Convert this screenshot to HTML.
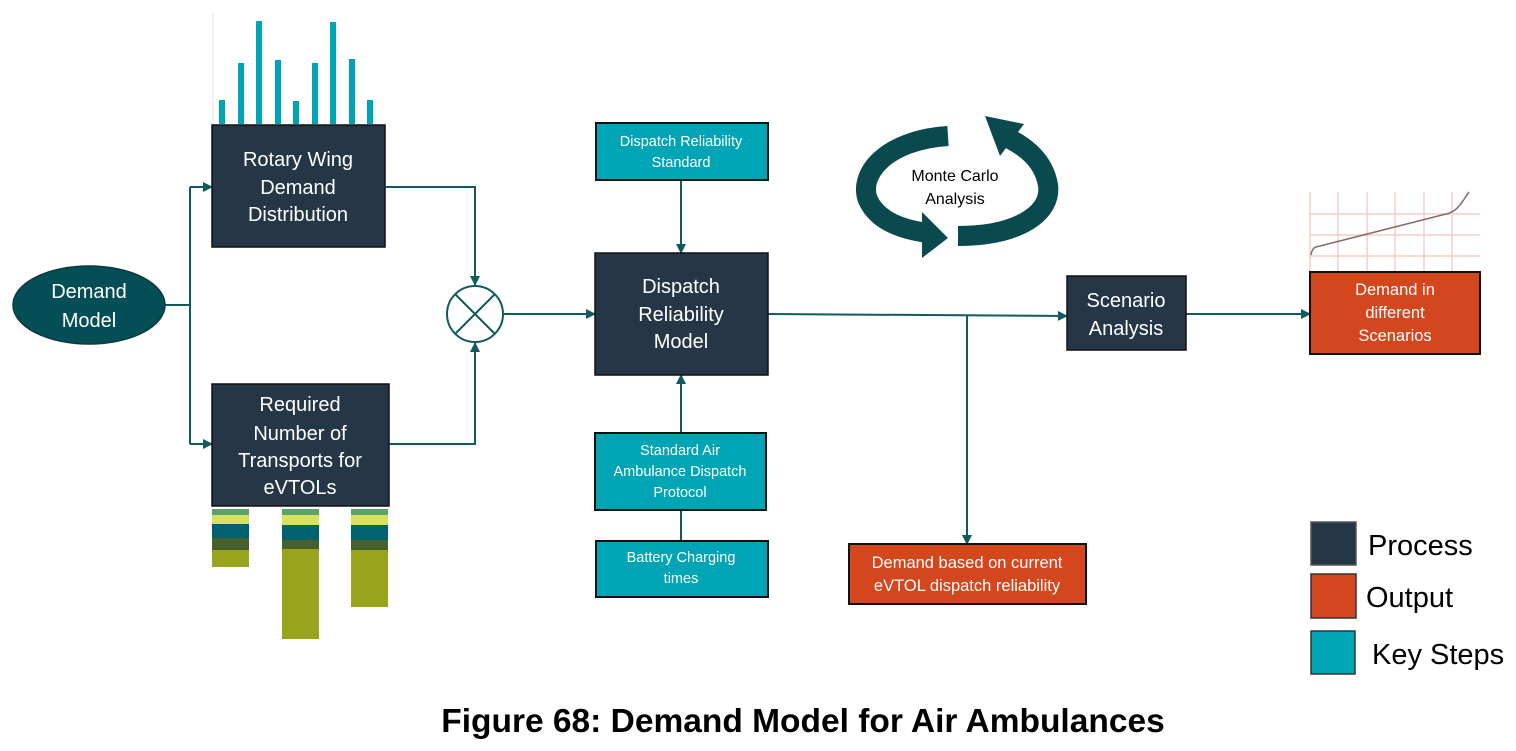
<!DOCTYPE html>
<html><head><meta charset="utf-8"><style>
body{margin:0;background:#fff}
</style></head><body>
<svg width="1516" height="746" viewBox="0 0 1516 746" xmlns="http://www.w3.org/2000/svg" font-family="Liberation Sans, sans-serif">
<defs><marker id="a" markerWidth="10" markerHeight="10" refX="9" refY="5" orient="auto" markerUnits="userSpaceOnUse"><path d="M0,0 L10,5 L0,10 z" fill="#115a5e"/></marker></defs>
<line x1="213" y1="12" x2="213" y2="124" stroke="#e6e6e6"/>
<g fill="#00a5b5">
<rect x="219" y="100" width="6" height="24"/><rect x="238" y="63" width="6" height="61"/><rect x="256" y="21" width="6" height="103"/><rect x="275" y="60" width="6" height="64"/><rect x="293" y="101" width="6" height="23"/><rect x="312" y="63" width="6" height="61"/><rect x="330" y="22" width="6" height="102"/><rect x="349" y="59" width="6" height="65"/><rect x="367" y="100" width="6" height="24"/>
</g>
<g>
<rect x="212" y="509" width="37" height="6" fill="#5aa36a"/><rect x="212" y="515" width="37" height="9" fill="#d9e25e"/><rect x="212" y="524" width="37" height="14" fill="#00626e"/><rect x="212" y="538" width="37" height="12" fill="#46602f"/><rect x="212" y="550" width="37" height="17" fill="#98a41e"/>
<rect x="282" y="509" width="37" height="6" fill="#5aa36a"/><rect x="282" y="515" width="37" height="10" fill="#d9e25e"/><rect x="282" y="525" width="37" height="15" fill="#00626e"/><rect x="282" y="540" width="37" height="9" fill="#46602f"/><rect x="282" y="549" width="37" height="90" fill="#98a41e"/>
<rect x="351" y="509" width="37" height="6" fill="#5aa36a"/><rect x="351" y="515" width="37" height="10" fill="#d9e25e"/><rect x="351" y="525" width="37" height="15" fill="#00626e"/><rect x="351" y="540" width="37" height="10" fill="#46602f"/><rect x="351" y="550" width="37" height="57" fill="#98a41e"/>
</g>
<g stroke="#f2cfc8" stroke-width="1.5">
<line x1="1310" y1="192" x2="1310" y2="272"/><line x1="1338" y1="192" x2="1338" y2="272"/><line x1="1367" y1="192" x2="1367" y2="272"/><line x1="1395" y1="192" x2="1395" y2="272"/><line x1="1424" y1="192" x2="1424" y2="272"/><line x1="1452" y1="192" x2="1452" y2="272"/>
<line x1="1310" y1="214" x2="1480" y2="214"/><line x1="1310" y1="235" x2="1480" y2="235"/><line x1="1310" y1="256" x2="1480" y2="256"/>
</g>
<path d="M1311,255 C1312,250 1313,248 1316,247 L1446,214 C1458,212 1463,200 1469,192" fill="none" stroke="#8a6a66" stroke-width="1.5"/>
<g stroke="#115a5e" stroke-width="2" fill="none">
<line x1="165" y1="305" x2="190" y2="305"/>
<line x1="190" y1="187" x2="190" y2="444"/>
<line x1="190" y1="187" x2="212" y2="187" marker-end="url(#a)"/>
<line x1="190" y1="444" x2="212" y2="444" marker-end="url(#a)"/>
<polyline points="385,187 475,187 475,285" marker-end="url(#a)"/>
<polyline points="389,444 475,444 475,343" marker-end="url(#a)"/>
<line x1="504" y1="314" x2="595" y2="314" marker-end="url(#a)"/>
<line x1="681" y1="180" x2="681" y2="253" marker-end="url(#a)"/>
<line x1="681" y1="433" x2="681" y2="375" marker-end="url(#a)"/>
<line x1="681" y1="541" x2="681" y2="510"/>
<line x1="768" y1="314" x2="1067" y2="316" marker-end="url(#a)"/>
<line x1="967" y1="316" x2="967" y2="544" marker-end="url(#a)"/>
<line x1="1186" y1="314" x2="1310" y2="314" marker-end="url(#a)"/>
</g>
<ellipse cx="89" cy="305" rx="76" ry="39" fill="#044e55" stroke="#0b3a3f" stroke-width="1.5"/>
<text x="89" y="298" fill="#fff" font-size="20" text-anchor="middle">Demand</text>
<text x="89" y="327" fill="#fff" font-size="20" text-anchor="middle">Model</text>
<circle cx="475" cy="314" r="28" fill="#fff" stroke="#115a5e" stroke-width="2"/>
<line x1="455" y1="294" x2="495" y2="334" stroke="#115a5e" stroke-width="2"/><line x1="495" y1="294" x2="455" y2="334" stroke="#115a5e" stroke-width="2"/>
<g stroke="#111" stroke-width="1.5" fill="#253746">
<rect x="212" y="125" width="173" height="122"/>
<rect x="212" y="384" width="177" height="122"/>
<rect x="595" y="253" width="173" height="122"/>
<rect x="1067" y="276" width="119" height="74"/>
</g>
<g fill="#fff" font-size="20" text-anchor="middle">
<text x="298" y="166">Rotary Wing</text><text x="298" y="194">Demand</text><text x="298" y="221">Distribution</text>
<text x="300" y="411">Required</text><text x="300" y="440">Number of</text><text x="300" y="467">Transports for</text><text x="300" y="494">eVTOLs</text>
<text x="681" y="293">Dispatch</text><text x="681" y="321">Reliability</text><text x="681" y="348">Model</text>
<text x="1126" y="307">Scenario</text><text x="1126" y="335">Analysis</text>
</g>
<g stroke="#111" stroke-width="2" fill="#00a5b5">
<rect x="596" y="123" width="172" height="57"/>
<rect x="595" y="433" width="171" height="77"/>
<rect x="596" y="541" width="172" height="56"/>
</g>
<g fill="#fff" font-size="14.5" text-anchor="middle">
<text x="681" y="146">Dispatch Reliability</text><text x="681" y="167">Standard</text>
<text x="680" y="455">Standard Air</text><text x="680" y="476">Ambulance Dispatch</text><text x="680" y="497">Protocol</text>
<text x="681" y="562">Battery Charging</text><text x="681" y="583">times</text>
</g>
<g stroke="#111" stroke-width="2" fill="#d3461e">
<rect x="849" y="544" width="237" height="60"/>
<rect x="1310" y="272" width="170" height="82"/>
</g>
<g fill="#fff" font-size="16.5" text-anchor="middle">
<text x="967" y="568">Demand based on current</text><text x="967" y="591">eVTOL dispatch reliability</text>
<text x="1395" y="295">Demand in</text><text x="1395" y="318">different</text><text x="1395" y="341">Scenarios</text>
</g>
<g fill="none" stroke="#0a4a4e" stroke-width="20">
<path d="M948,136 C885,140 858,175 868,200 C878,222 905,230 928,233"/>
<path d="M958,236 C1020,236 1052,212 1048,185 C1044,162 1028,148 1008,138"/>
</g>
<polygon points="922,212 948,238 922,258" fill="#0a4a4e"/>
<polygon points="985,116 1024,124 1000,156" fill="#0a4a4e"/>
<text x="955" y="181" font-size="16" text-anchor="middle" fill="#000">Monte Carlo</text>
<text x="955" y="204" font-size="16" text-anchor="middle" fill="#000">Analysis</text>
<rect x="1311" y="522" width="45" height="43" fill="#253746" stroke="#555" stroke-width="1.5"/>
<rect x="1311" y="574" width="45" height="44" fill="#d3461e" stroke="#333" stroke-width="1.5"/>
<rect x="1311" y="631" width="44" height="43" fill="#00a5b5" stroke="#333" stroke-width="1.5"/>
<g font-size="29" fill="#000"><text x="1368" y="555">Process</text><text x="1366" y="607">Output</text><text x="1372" y="664">Key Steps</text></g>
<text x="803" y="732" font-weight="bold" font-size="33.5" text-anchor="middle" fill="#000">Figure 68: Demand Model for Air Ambulances</text>
</svg>
</body></html>
